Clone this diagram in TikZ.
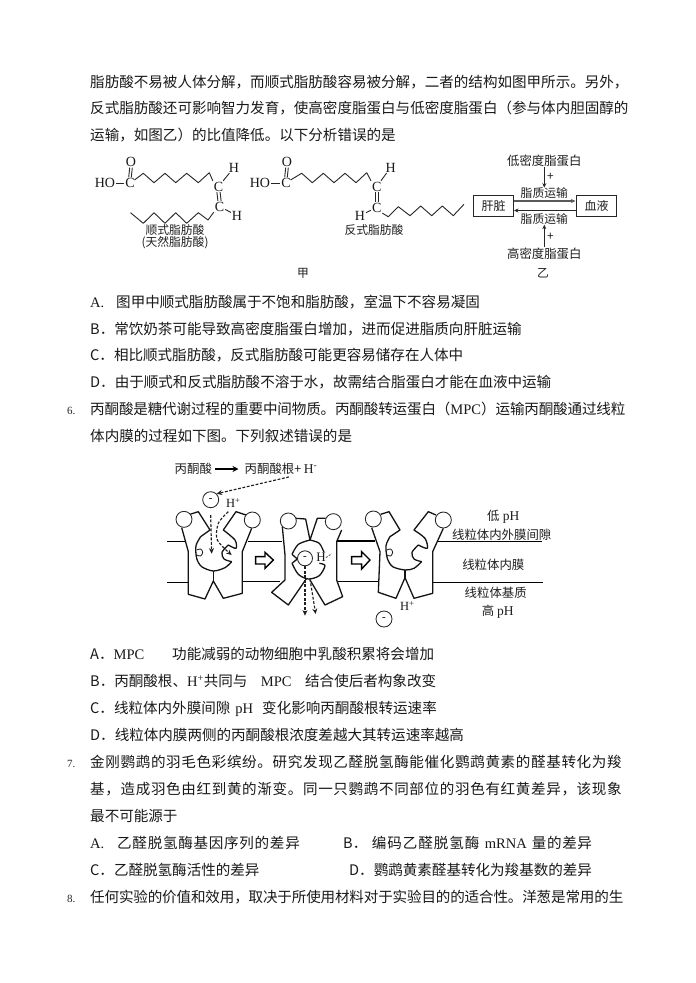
\documentclass[tikz,border=0pt]{standalone}
\usepackage{fontspec}
\setmainfont{Noto Sans CJK SC}
\newfontfamily\lat{Liberation Serif}
\usetikzlibrary{arrows.meta}
\newcommand{\tl}[4]{\node[bodytext] (#1) at (#2,#3+5.2) {#4};}
\newcommand{\tj}[5]{\node[bodytext] (#1) at (#2,#3+5.2) {\addfontfeature{LetterSpace=#4}#5};}
\newcommand{\fs}[1]{\fontsize{#1}{#1}\selectfont}
\newcommand{\lsp}[2]{{\addfontfeature{LetterSpace=#1}#2}}
\tikzset{
 bodytext/.style={anchor=base west,inner sep=0pt,font=\fs{14.55},text=black!90},
 qnum/.style={anchor=base west,inner sep=0pt,font=\lat\fs{11},text=black!85},
 lab/.style={inner sep=0pt,font=\fs{11.8},text=black!88},
 labb/.style={inner sep=0pt,font=\fs{12.4},text=black!88},
 atom/.style={inner sep=0.8pt,font=\lat\fs{14},text=black!90},
 bond/.style={line width=0.9pt,draw=black!85,line join=round},
 box/.style={draw=black!85,line width=1pt,minimum width=39.5pt,minimum height=21pt,inner sep=0pt,font=\fs{12},text=black!88},
 arr/.style={line width=0.8pt,draw=black!85,-{Stealth[length=4.5pt,width=4pt]}},
 mem/.style={line width=1.2pt,draw=black},
 prot/.style={line width=1.3pt,draw=black!92,line join=round},
 ball/.style={circle,draw=black!85,line width=0.85pt,fill=white,minimum size=16pt,inner sep=0pt,font=\lat\fs{11}},
 dasharr/.style={line width=1.15pt,draw=black!88,dash pattern=on 2.8pt off 1.7pt,-{Stealth[length=5.5pt,width=5pt]}},
 blockarr/.style={line width=1.4pt,draw=black,fill=white,line join=miter},
}
\begin{document}
\begin{tikzpicture}[x=1pt,y=-1pt]
\useasboundingbox[fill=white] (0,0) rectangle (696,983);
% ---------- body text
\tj{l1}{90}{82}{0}{脂肪酸不易被人体分解，而顺式脂肪酸容易被分解，二者的结构如图甲所示。另外，}
\tj{l2}{90}{108.5}{0}{反式脂肪酸还可影响智力发育，使高密度脂蛋白与低密度脂蛋白（参与体内胆固醇的}
\tl{l3}{90}{135}{运输，如图乙）的比值降低。以下分析错误的是}
\tl{a1}{90}{302}{\lat A.}
\tl{a1t}{116}{302}{图甲中顺式脂肪酸属于不饱和脂肪酸，室温下不容易凝固}
\tl{b1}{90}{329}{B．常饮奶茶可能导致高密度脂蛋白增加，进而促进脂质向肝脏运输}
\tl{c1}{90}{355.5}{C．相比顺式脂肪酸，反式脂肪酸可能更容易储存在人体中}
\tl{d1}{90}{382}{D．由于顺式和反式脂肪酸不溶于水，故需结合脂蛋白才能在血液中运输}
\node[qnum] (n6) at (67,414) {6.};
\tj{l6a}{90}{409}{-1}{丙酮酸是糖代谢过程的重要中间物质。丙酮酸转运蛋白（{\lat MPC}）运输丙酮酸通过线粒}
\tl{l6b}{90}{436}{体内膜的过程如下图。下列叙述错误的是}
\tl{a2}{90}{654.5}{A．{\lat MPC}}
\tl{a2t}{172}{654.5}{功能减弱的动物细胞中乳酸积累将会增加}
\tl{b2}{90}{681.5}{B．丙酮酸根、{\lat H\textsuperscript{+}}共同与\hspace{13.5pt}{\lat MPC}\hspace{13.5pt}结合使后者构象改变}
\tl{c2}{90}{708}{C．线粒体内外膜间隙\hspace{5pt}{\lat pH}\hspace{9pt}变化影响丙酮酸根转运速率}
\tl{d2}{90}{735}{D．线粒体内膜两侧的丙酮酸根浓度差越大其转运速率越高}
\node[qnum] (n7) at (67,767) {7.};
\tj{l7a}{90}{762}{4.5}{金刚鹦鹉的羽毛色彩缤纷。研究发现乙醛脱氢酶能催化鹦鹉黄素的醛基转化为羧}
\tj{l7b}{90}{789}{4.5}{基，造成羽色由红到黄的渐变。同一只鹦鹉不同部位的羽色有红黄差异，该现象}
\tl{l7c}{90}{816}{最不可能源于}
\tl{a3}{90}{843}{\lat A.}
\tj{a3t}{117}{843}{5}{乙醛脱氢酶基因序列的差异}
\tl{b3}{343}{843}{B．\hspace{4.5pt}\lsp{6.5}{编码乙醛脱氢酶}\hspace{5.5pt}{\lat mRNA}\hspace{5pt}\lsp{4.5}{量的差异}}
\tl{c3}{90}{870}{C．乙醛脱氢酶活性的差异}
\tl{d3}{349}{870}{D．鹦鹉黄素醛基转化为羧基数的差异}
\node[qnum] (n8) at (67,902) {8.};
\tj{l8}{90}{897}{-1}{任何实验的价值和效用，取决于所使用材料对于实验目的的适合性。洋葱是常用的生}
% ---------- cis fatty acid
\node[atom] (ho1) at (105,183) {HO};
\node[atom] (c1) at (130,183) {C};
\node[atom] (o1) at (131,162) {O};
\node[atom] (c2) at (218.5,186.5) {C};
\node[atom] (c3) at (219.5,206.5) {C};
\node[atom] (h1) at (234,167.5) {H};
\node[atom] (h2) at (237,215.5) {H};
\draw[bond] (ho1)--(c1);
\draw[bond] ([xshift=-1.3pt]o1.south)--([xshift=-1.3pt]c1.north) ([xshift=1.3pt]o1.south)--([xshift=1.3pt]c1.north);
\draw[bond] (c1) ++(4.5,-3) -- (143.3,173.3)--(154,182.7)--(165,173.3)--(175.7,182.7)--(186.7,173.3)--(198.3,182.7)--(209.3,172.7)--(c2.north west);
\draw[bond] ([xshift=-1.6pt]c2.south)--([xshift=-1.6pt]c3.north) ([xshift=1.6pt]c2.south)--([xshift=1.6pt]c3.north);
\draw[bond] (c2)--(h1);
\draw[bond] (c3)--(h2);
\draw[bond] (c3.south west)--(208,220)--(198.3,212.7)--(186.7,223.3)--(175.7,212.7)--(165,223.3)--(154,212.7)--(143.3,223.3)--(130.5,212.7);
\node[lab] (cisA) at (175,230.5) {顺式脂肪酸};
\node[lab] (cisB) at (175,243) {(天然脂肪酸)};
% ---------- trans fatty acid
\node[atom] (ho2) at (260,183) {HO};
\node[atom] (c4) at (286,183) {C};
\node[atom] (o2) at (287,162) {O};
\node[atom] (c5) at (376.7,186.5) {C};
\node[atom] (c6) at (376.7,207.5) {C};
\node[atom] (h3) at (390.7,167.5) {H};
\node[atom] (h4) at (360,215.5) {H};
\draw[bond] (ho2)--(c4);
\draw[bond] ([xshift=-1.3pt]o2.south)--([xshift=-1.3pt]c4.north) ([xshift=1.3pt]o2.south)--([xshift=1.3pt]c4.north);
\draw[bond] (c4) ++(4.5,-3) -- (301.7,173.3)--(312.3,182.7)--(323.3,173.3)--(334,182.7)--(345,173.3)--(356,182.7)--(366.7,172.7)--(c5.north west);
\draw[bond] ([xshift=-1.6pt]c5.south)--([xshift=-1.6pt]c6.north) ([xshift=1.6pt]c5.south)--([xshift=1.6pt]c6.north);
\draw[bond] (c5)--(h3);
\draw[bond] (c6)--(h4);
\draw[bond] (c6.south east)--(388.3,216.7)--(398.3,206.7)--(410,215.7)--(420.7,206)--(431.7,215.7)--(442.3,206)--(453.3,215.7)--(464,204.3);
\node[lab] (transA) at (374,230.5) {反式脂肪酸};
\node[lab] (jia) at (303,273) {甲};
% ---------- lipoprotein scheme
\node[box] (gan) at (493.7,205.5) {肝脏};
\node[box] (xue) at (596.7,205.5) {血液};
\node[labb] (ld) at (544.3,160.5) {低密度脂蛋白};
\node[lab] (ts1) at (544.3,193.3) {脂质运输};
\node[lab] (ts2) at (544.3,219) {脂质运输};
\node[labb] (hd) at (544.3,253.5) {高密度脂蛋白};
\node[lab] (p1) at (550.5,176.5) {+};
\node[lab] (p2) at (550.5,236.5) {+};
\node[lab] (yi) at (543,273) {乙};
\draw[arr] (ld.south)--(ts1.north);
\draw[arr] (hd.north)--(ts2.south);
\draw[arr,line width=1.2pt,draw=black!65] ([yshift=4.5pt]gan.east)--([yshift=4.5pt,xshift=-1pt]xue.west);
\draw[arr] ([yshift=-5pt]xue.west)--([yshift=-5pt]gan.east);
% ---------- MPC diagram text
\node[labb] (pa) at (193.3,469) {丙酮酸};
\node[labb,anchor=west] (pg) at (244.5,469) {丙酮酸根+ {\lat\fs{13.5}H\textsuperscript{-}}};
\draw[line width=1.1pt,draw=black,-{Stealth[length=6pt,width=6pt]},shorten <=3pt,shorten >=6pt] (pa.east)--(pg.west);
\node[ball] (m1) at (210.7,499.7) {-};
\draw[dasharr] (pg.south)++(8,2)--(m1.north east);
\node[atom,font=\lat\fs{12.5}] (hp1) at (233.3,503.3) {H\textsuperscript{+}};
\node[labb] (t1) at (503.3,516.7) {低{\lat\fs{13.5} pH}};
\node[labb] (t2) at (501.7,535) {线粒体内外膜间隙};
\node[labb] (t3) at (493.3,565) {线粒体内膜};
\node[labb] (t4) at (495.7,592.3) {线粒体基质};
\node[labb] (t5) at (497.7,611.7) {高 {\lat\fs{13.5}pH}};
\node[atom,font=\lat\fs{12.5}] (hp3) at (407.3,606) {H\textsuperscript{+}};
\node[ball] (m3) at (384,619) {-};
% ---------- membrane and proteins, first two in crop units
\begin{scope}[shift={(160,455)},x=0.3333pt,y=-0.3333pt]
\draw[mem] (22,260)--(78,260) (22,382)--(85,382);
\draw[mem] (265,260)--(367,260) (247,380)--(360,380);
\draw[mem] (530,258)--(640,258) (530,380)--(640,380);
% protein 1
\draw[prot] (90,178)--(115,170)--(150,225)--(122,245) plot[smooth] coordinates {(122,245)(108,272)(110,310)(125,335)(160,348)(195,338)(215,320)} plot[smooth] coordinates {(215,320)(192,312)(186,292)(205,270)} plot[smooth] coordinates {(205,270)(228,280)(225,255)(190,225)} --(228,170)--(258,180);
\draw[prot] (65,218)--(85,290)--(85,418)--(135,432)--(160,378)--(190,430)--(247,415)--(247,290)--(275,220);
\draw[prot] (160,348)--(160,378);
\draw[prot,line width=0.8pt] plot[smooth] coordinates {(110,285)(122,282)(128,292)(122,303)(110,300)};
\node[ball] (c11) at (72,193) {};
\node[ball] (c12) at (277,195) {};
\draw[dasharr] (152,180)--(155,296);
\draw[dasharr] plot[smooth] coordinates {(205,170)(175,205)(172,255)(215,300)};
% block arrow 1
\draw[blockarr] (287,305)--(315,305)--(315,292)--(340,315)--(315,340)--(315,327)--(287,327)--cycle;
% protein 2
\draw[prot] (408,190)--(437,192)--(450,255)--(472,190)--(497,190);
\draw[prot] (367,215)--(375,300)--(375,375)--(335,412)--(385,450)--(440,370);
\draw[prot] (450,375)--(495,450)--(548,425)--(530,375)--(530,260)--(545,225);
\draw[prot] plot[smooth] coordinates {(450,255)(415,268)(396,298)};
\draw[prot] (396,298)--(412,312)--(396,325);
\draw[prot] plot[smooth] coordinates {(396,325)(415,358)(445,372)(478,362)(495,332)(478,325)};
\draw[prot] plot[smooth] coordinates {(450,255)(478,265)(492,292)};
\node[ball,minimum size=15pt] (m2) at (435,310) {-};
\node[atom,font=\lat\fs{13},fill=white,inner sep=0pt] (hm2) at (483,308) {H};
\draw[line width=0.8pt,draw=black!70,dash pattern=on 2pt off 1.5pt] (hm2.east)--(515,296);
\node[ball] (c21) at (385,198) {};
\node[ball] (c22) at (520,200) {};
\draw[dasharr] (m2.south)--(435,482);
\draw[dasharr] (450,372)--(467,477);
\end{scope}
\begin{scope}[shift={(350,455)},x=0.3333pt,y=-0.3333pt]
\draw[mem] (40,258)--(75,258) (40,380)--(85,380);
\draw[mem] (265,260)--(575,260) (250,382)--(578,382);
\draw[prot] (92,178)--(117,170)--(150,225)--(120,245) plot[smooth] coordinates {(120,245)(108,272)(112,310)(128,335)(165,345)(192,340)(215,320)} plot[smooth] coordinates {(215,320)(192,312)(186,292)(205,270)} plot[smooth] coordinates {(205,270)(232,280)(225,250)(192,225)} --(235,170)--(258,180);
\draw[prot] (65,218)--(90,290)--(85,412)--(138,430)--(165,368)--(192,430)--(248,415)--(248,290)--(280,220);
\draw[prot] (165,345)--(165,368);
\draw[prot,line width=0.8pt] plot[smooth] coordinates {(110,285)(122,282)(128,292)(122,303)(110,300)};
\node[ball] (c31) at (70,192) {};
\node[ball] (c32) at (280,195) {};
\draw[blockarr] (5,305)--(35,305)--(35,290)--(60,315)--(35,342)--(35,327)--(5,327)--cycle;
\end{scope}
\end{tikzpicture}
\end{document}
